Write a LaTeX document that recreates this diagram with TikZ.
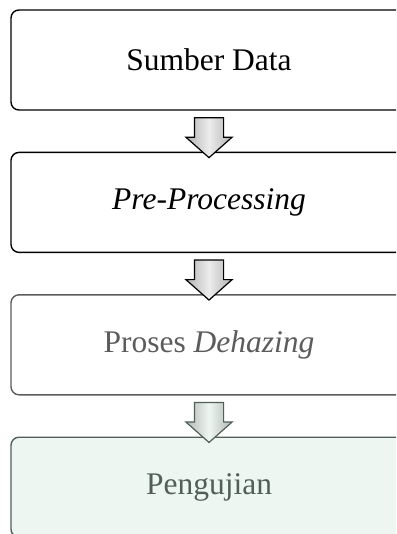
\documentclass[tikz,border=0pt]{standalone}
\usepackage{fontspec}
\setmainfont{Liberation Serif}
\usetikzlibrary{positioning,shapes.arrows,calc}
\definecolor{hazegray}{HTML}{5C5C5C}
\definecolor{testgreen}{HTML}{506058}
\definecolor{testfill}{HTML}{EEF6F1}
\begin{document}
\begin{tikzpicture}[x=1pt, y=1pt,
		stepbox/.style={draw=black, line width=1.4pt, rounded corners=8pt, fill=white, minimum width=396pt, minimum height=100pt, inner sep=0pt, font=\fontsize{31.5}{37}\selectfont},
		blockarrow/.style={single arrow, draw=black, line width=1.2pt, rotate=-90, single arrow tip angle=97, single arrow head extend=8.5pt, inner xsep=0pt, inner ysep=14pt, minimum height=40pt, left color=gray!60, right color=gray!60, middle color=gray!15},
		node distance=41pt]
			\useasboundingbox (0,0) rectangle (396,-534);
			\fill[white] (0,0) rectangle (396,-534);
			\clip (0,0) rectangle (396,-534);
			
			\node[stepbox] (sumber) at (209,-60) {Sumber Data};
			\node[stepbox, below=of sumber] (pre) {\emph{Pre-Processing}};
			\node[stepbox, below=of pre, draw=hazegray, text=hazegray] (dehaze) {Proses \emph{Dehazing}};
			\node[stepbox, below=of dehaze, draw=testgreen, fill=testfill, text=testgreen] (uji) {Pengujian};
			
			\node[blockarrow] (a1) at ($(sumber.south)!0.5!(pre.north)$) {};
			\node[blockarrow] (a2) at ($(pre.south)!0.5!(dehaze.north)$) {};
			\node[blockarrow, draw=testgreen, left color=testgreen!45, right color=testgreen!45, middle color=testfill] (a3) at ($(dehaze.south)!0.5!(uji.north)$) {};
		
		\end{tikzpicture}
\end{document}
